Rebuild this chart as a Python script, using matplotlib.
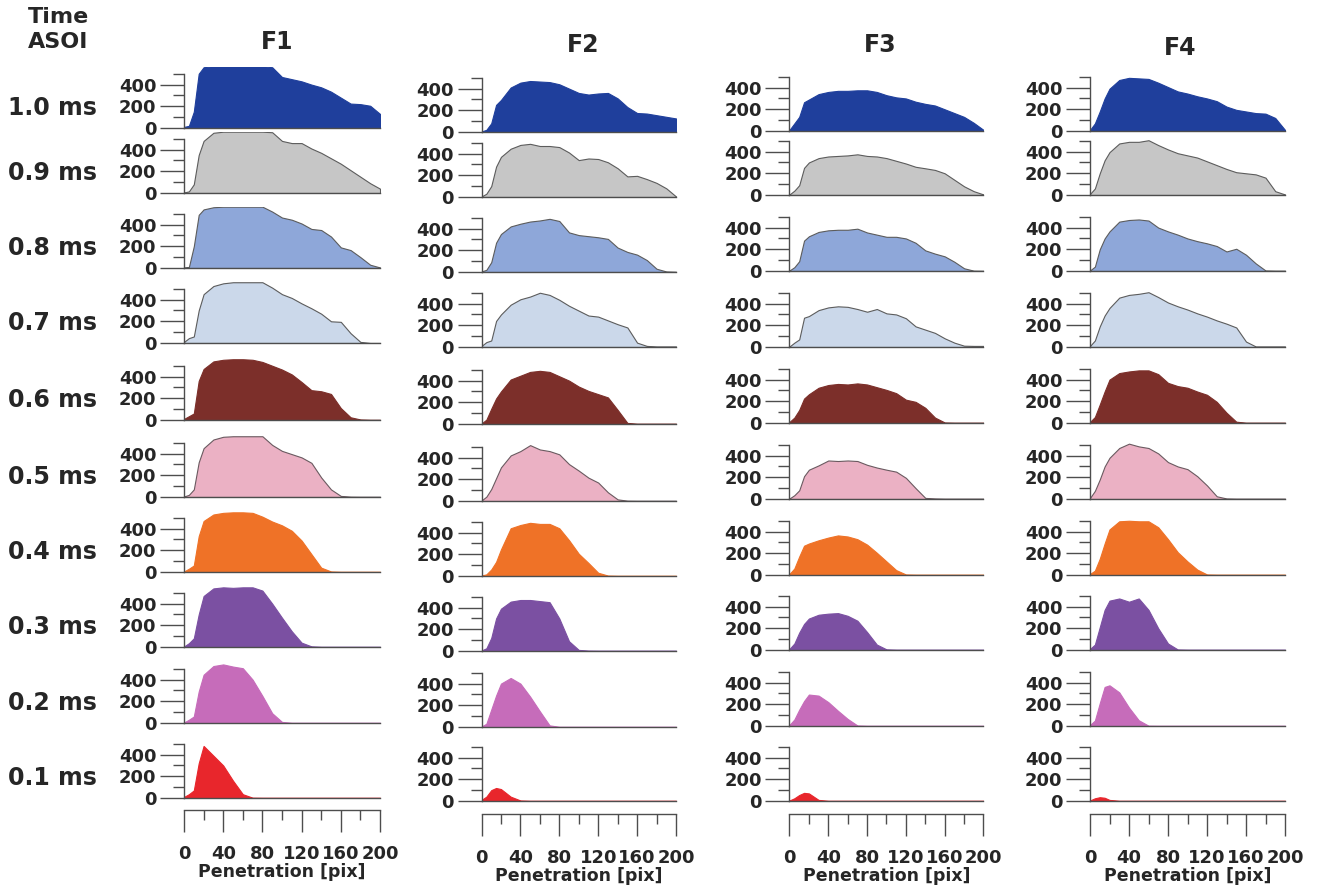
import numpy as np
import matplotlib.pyplot as plt
from matplotlib.ticker import MultipleLocator

plt.rcParams['font.family'] = 'DejaVu Sans'
plt.rcParams['font.weight'] = 'bold'

# # # # # # # # # # # # #    DATA    # # # # # # # # # # # # #

# penetration positions [pix] where the curves were read
pen = [0, 5, 10, 15, 20, 30, 40, 50, 60, 70, 80, 90, 100,
       110, 120, 130, 140, 150, 160, 170, 180, 190, 200]

times = ['1.0 ms', '0.9 ms', '0.8 ms', '0.7 ms', '0.6 ms',
         '0.5 ms', '0.4 ms', '0.3 ms', '0.2 ms', '0.1 ms']
fields = ['F1', 'F2', 'F3', 'F4']

f1 = [
    [10, 20, 150, 500, 560, 570, 570, 570, 570, 570, 570, 560, 470, 450, 430, 400, 375, 335, 280, 225, 220, 205, 130],
    [5, 15, 80, 350, 480, 555, 565, 565, 565, 565, 565, 560, 480, 460, 460, 410, 370, 320, 270, 210, 150, 90, 40],
    [5, 10, 200, 490, 540, 560, 565, 565, 565, 565, 565, 520, 465, 445, 410, 360, 350, 290, 190, 165, 100, 30, 5],
    [10, 45, 60, 300, 450, 525, 550, 560, 560, 560, 560, 510, 450, 415, 365, 320, 270, 200, 195, 90, 10, 0, 0],
    [10, 35, 60, 360, 470, 540, 555, 560, 560, 555, 535, 500, 465, 420, 350, 275, 265, 240, 110, 25, 5, 2, 2],
    [5, 20, 70, 320, 450, 530, 555, 560, 560, 560, 560, 480, 425, 395, 365, 315, 180, 70, 10, 3, 2, 2, 2],
    [5, 30, 60, 330, 470, 530, 545, 550, 550, 545, 510, 465, 430, 380, 290, 165, 40, 5, 2, 2, 2, 2, 2],
    [5, 35, 80, 300, 470, 540, 550, 545, 550, 550, 520, 400, 270, 145, 40, 6, 2, 2, 2, 2, 2, 2, 2],
    [5, 30, 60, 290, 445, 525, 540, 520, 505, 400, 250, 90, 10, 2, 2, 2, 2, 2, 2, 2, 2, 2, 2],
    [10, 35, 70, 320, 480, 390, 300, 160, 35, 3, 2, 2, 2, 2, 2, 2, 2, 2, 2, 2, 2, 2, 2],
]
f2 = [
    [5, 20, 80, 250, 295, 410, 455, 470, 465, 460, 440, 400, 360, 345, 355, 360, 310, 230, 175, 170, 155, 140, 125],
    [5, 30, 100, 280, 370, 445, 480, 490, 470, 470, 460, 410, 340, 355, 350, 320, 265, 190, 195, 165, 130, 80, 5],
    [5, 20, 90, 270, 350, 420, 445, 465, 475, 490, 470, 365, 340, 330, 320, 305, 225, 185, 160, 110, 30, 5, 2],
    [10, 45, 60, 240, 300, 390, 440, 465, 500, 480, 435, 380, 335, 290, 280, 245, 210, 180, 40, 10, 5, 5, 5],
    [5, 40, 140, 235, 300, 410, 445, 480, 490, 480, 440, 400, 345, 305, 275, 245, 130, 10, 3, 3, 3, 3, 3],
    [5, 40, 110, 210, 310, 420, 460, 515, 475, 460, 430, 340, 280, 215, 170, 80, 15, 3, 2, 2, 2, 2, 2],
    [5, 15, 60, 130, 245, 440, 470, 490, 480, 480, 440, 330, 205, 120, 30, 4, 2, 2, 2, 2, 2, 2, 2],
    [5, 25, 120, 300, 390, 455, 470, 470, 460, 450, 300, 90, 10, 4, 3, 3, 3, 3, 3, 3, 3, 3, 3],
    [5, 30, 160, 290, 400, 452, 400, 280, 145, 15, 2, 2, 2, 2, 2, 2, 2, 2, 2, 2, 2, 2, 2],
    [10, 40, 100, 120, 110, 40, 5, 2, 2, 2, 2, 2, 2, 2, 2, 2, 2, 2, 2, 2, 2, 2, 2],
]
f3 = [
    [10, 70, 130, 265, 290, 340, 360, 370, 370, 375, 375, 360, 330, 310, 300, 270, 250, 235, 200, 165, 130, 75, 10],
    [5, 40, 90, 250, 300, 340, 355, 360, 365, 375, 360, 355, 340, 315, 290, 260, 246, 231, 200, 140, 80, 35, 5],
    [5, 35, 90, 280, 320, 360, 375, 380, 380, 390, 355, 335, 315, 315, 300, 260, 190, 160, 135, 85, 25, 3, 2],
    [5, 40, 70, 270, 285, 340, 365, 375, 370, 350, 325, 350, 310, 300, 265, 190, 160, 130, 80, 40, 12, 10, 10],
    [10, 50, 120, 225, 265, 325, 350, 360, 355, 365, 355, 330, 305, 275, 215, 195, 140, 50, 5, 3, 3, 3, 3],
    [5, 35, 80, 210, 270, 310, 355, 350, 355, 350, 315, 290, 270, 252, 195, 100, 10, 5, 3, 3, 3, 3, 3],
    [10, 60, 170, 270, 290, 320, 345, 365, 355, 330, 280, 205, 125, 45, 5, 3, 3, 3, 3, 3, 3, 3, 3],
    [10, 60, 160, 240, 290, 325, 335, 340, 315, 270, 165, 50, 6, 3, 3, 3, 3, 3, 3, 3, 3, 3, 3],
    [10, 60, 150, 230, 290, 280, 220, 140, 65, 5, 2, 2, 2, 2, 2, 2, 2, 2, 2, 2, 2, 2, 2],
    [5, 25, 55, 75, 70, 10, 2, 2, 2, 2, 2, 2, 2, 2, 2, 2, 2, 2, 2, 2, 2, 2, 2],
]
f4 = [
    [10, 70, 180, 300, 390, 470, 490, 485, 480, 445, 405, 365, 345, 320, 300, 275, 225, 195, 180, 165, 160, 120, 10],
    [10, 60, 200, 320, 395, 475, 490, 490, 505, 460, 420, 385, 365, 345, 310, 275, 240, 210, 200, 190, 160, 35, 5],
    [5, 40, 200, 300, 365, 455, 470, 475, 465, 400, 365, 335, 300, 275, 255, 230, 180, 205, 150, 70, 5, 3, 3],
    [10, 60, 190, 290, 360, 455, 480, 490, 505, 460, 410, 375, 345, 310, 280, 245, 215, 180, 50, 5, 5, 5, 5],
    [10, 55, 170, 290, 400, 460, 475, 485, 485, 450, 370, 340, 325, 290, 260, 195, 95, 12, 3, 3, 3, 3, 3],
    [10, 75, 180, 300, 380, 470, 510, 485, 470, 420, 340, 300, 275, 210, 125, 25, 5, 3, 3, 3, 3, 3, 3],
    [10, 40, 150, 290, 420, 495, 500, 495, 495, 440, 330, 210, 125, 50, 5, 3, 3, 3, 3, 3, 3, 3, 3],
    [10, 50, 210, 370, 455, 475, 445, 475, 370, 200, 60, 5, 3, 3, 3, 3, 3, 3, 3, 3, 3, 3, 3],
    [10, 50, 210, 360, 375, 310, 170, 53, 3, 2, 2, 2, 2, 2, 2, 2, 2, 2, 2, 2, 2, 2, 2],
    [5, 25, 35, 30, 10, 2, 2, 2, 2, 2, 2, 2, 2, 2, 2, 2, 2, 2, 2, 2, 2, 2, 2],
]
all_fields = [f1, f2, f3, f4]

fill_colors = ['#1f3f9c', '#c6c6c6', '#8ea7d9', '#cbd8ea', '#7c2f2a',
               '#ebb1c4', '#ef7227', '#7b50a2', '#c66cba', '#e8262c']
edge_colors = ['#1f3f9c', '#5c5c5c', '#5c5c5c', '#5c5c5c', '#7c2f2a',
               '#6a5a60', '#ef7227', '#7b50a2', '#c66cba', '#e8262c']

# # # # # # # # # # # # #    LAYOUT    # # # # # # # # # # # # #

W, H = 1318, 886
fig = plt.figure(figsize=(W / 100, H / 100), dpi=100)

col_x0 = [184, 481.5, 789.5, 1090]
col_x1 = [380, 676, 983.5, 1285]
base_y = [
    [128, 193, 268, 343, 420, 497, 572, 647, 723, 798],
    [132, 197, 272, 347, 424, 501, 576, 651, 727, 801],
    [131, 195, 271, 347, 423, 499, 575, 650, 726, 801],
    [131, 195, 271, 347, 423, 499, 575, 650, 726, 801],
]
xaxis_y = [810, 814, 814, 814]
title_pos = [(277, 42), (583, 45), (880, 45), (1180, 48)]

YTOP = 560
px_per_unit = 0.1085
axis_col = '#4d4d4d'
text_col = '#262626'

for c in range(4):
    x0, x1 = col_x0[c], col_x1[c]
    for r in range(10):
        b = base_y[c][r]
        h = YTOP * px_per_unit
        ax = fig.add_axes([x0 / W, 1 - b / H, (x1 - x0) / W, h / H])
        ax.set_xlim(0, 200)
        ax.set_ylim(0, YTOP)
        ax.patch.set_alpha(0)

        ax.fill_between(pen, all_fields[c][r], 0, facecolor=fill_colors[r],
                        edgecolor=edge_colors[r], linewidth=0.8, zorder=2)

        for s in ['top', 'right']:
            ax.spines[s].set_visible(False)
        ax.spines['left'].set_bounds(0, 500)
        ax.spines['bottom'].set_bounds(0, 200)
        for s in ['left', 'bottom']:
            ax.spines[s].set_color(axis_col)
            ax.spines[s].set_linewidth(1.0)
        ax.set_xticks([])

        ax.set_yticks([0, 200, 400])
        ax.set_yticks([100, 300, 500], minor=True)
        ax.tick_params(axis='y', which='major', length=17, width=1.0,
                       color=axis_col, labelsize=13, labelcolor=text_col, pad=3)
        ax.tick_params(axis='y', which='minor', length=8, width=1.0, color=axis_col)
        for lab in ax.get_yticklabels():
            lab.set_fontweight('bold')

        if c == 0:
            fig.text(97 / W, 1 - (b - 20) / H, times[r], ha='right', va='center',
                     fontsize=17, fontweight='bold', color=text_col)

    # bottom penetration axis
    bx = fig.add_axes([x0 / W, 1 - xaxis_y[c] / H, (x1 - x0) / W, 2 / H])
    bx.patch.set_alpha(0)
    bx.set_xlim(0, 200)
    bx.set_yticks([])
    for s in ['top', 'right', 'left']:
        bx.spines[s].set_visible(False)
    bx.spines['bottom'].set_color(axis_col)
    bx.spines['bottom'].set_linewidth(1.0)
    bx.set_xticks([0, 40, 80, 120, 160, 200])
    bx.set_xticks([20, 60, 100, 140, 180], minor=True)
    bx.tick_params(axis='x', which='major', length=15.5, width=1.0, color=axis_col,
                   labelsize=13, labelcolor=text_col, pad=10)
    bx.tick_params(axis='x', which='minor', length=7, width=1.0, color=axis_col)
    for lab in bx.get_xticklabels():
        lab.set_fontweight('bold')
    bx.set_xlabel('Penetration [pix]', fontsize=12.5, fontweight='bold',
                  color=text_col, labelpad=0)

    tx, ty = title_pos[c]
    fig.text(tx / W, 1 - ty / H, fields[c], ha='center', va='center',
             fontsize=17, fontweight='bold', color=text_col)

fig.text(28 / W, 1 - 17 / H, 'Time', ha='left', va='center',
         fontsize=16, fontweight='bold', color=text_col)
fig.text(28 / W, 1 - 42 / H, 'ASOI', ha='left', va='center',
         fontsize=16, fontweight='bold', color=text_col)

fig.savefig('out.png', dpi=100, facecolor='white')
